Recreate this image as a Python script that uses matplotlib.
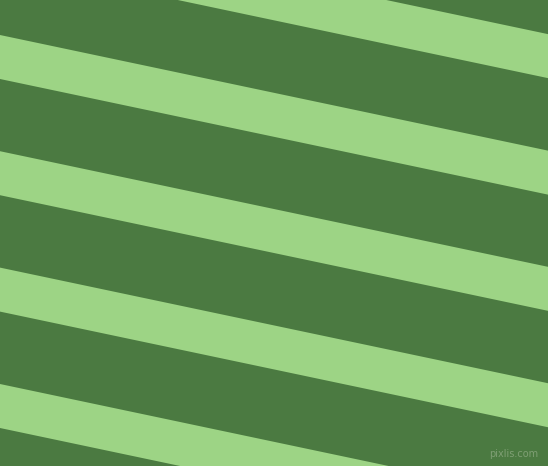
import numpy as np
import matplotlib
matplotlib.use("Agg")
import matplotlib.pyplot as plt

W, H = 548, 466
DARK = "#4b7a41"
LIGHT = "#9dd485"

# light band top edge at x=0 (px from top), band thickness, slope (px down per px right)
band_top = [-81.5, 35.0, 151.2, 267.6, 384.0]
band_thick = 44.0
slope = 0.211

fig = plt.figure(figsize=(W / 100, H / 100), dpi=100)
ax = fig.add_axes([0, 0, 1, 1])
ax.set_facecolor(DARK)
fig.patch.set_facecolor(DARK)

xs = np.array([0, W])
for t in band_top:
    ax.fill_between(xs, t + slope * xs, t + band_thick + slope * xs,
                    color=LIGHT, linewidth=0)

ax.text(538, 457, "pixlis.com", ha="right", va="baseline", fontsize=7,
        color="#7f9f74", family="DejaVu Sans")

ax.set_xlim(0, W)
ax.set_ylim(H, 0)
ax.axis("off")
fig.savefig("out.png", dpi=100, facecolor=DARK)
